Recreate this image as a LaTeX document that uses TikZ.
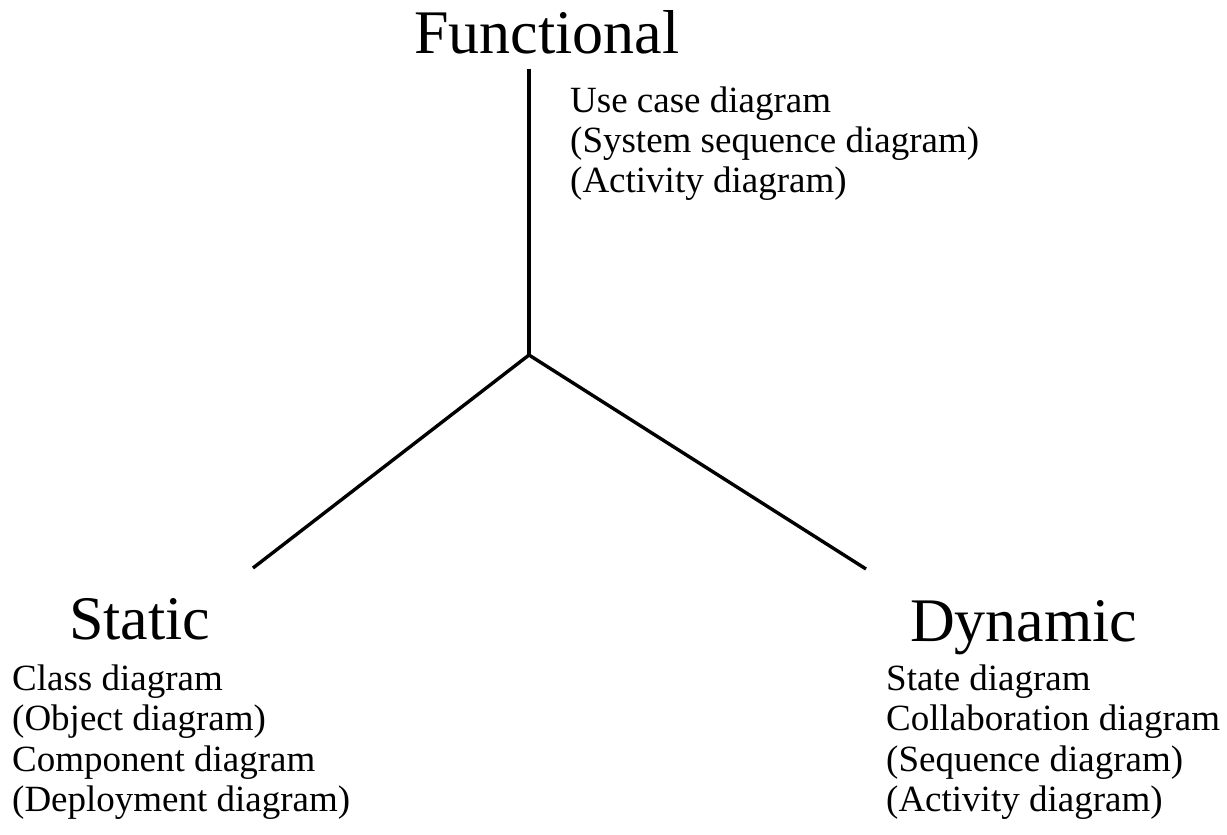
\documentclass[tikz,border=0pt]{standalone}
\usepackage{fontspec}
\setmainfont{Liberation Serif}
\begin{document}
\begin{tikzpicture}[x=1pt,y=-1pt,
  heading/.style={anchor=base west,inner sep=0pt,font=\fontsize{62}{62}\selectfont},
  entry/.style={anchor=base west,inner sep=0pt,font=\fontsize{37}{40}\selectfont},
  axis/.style={line width=3.4pt,line cap=butt}]
\useasboundingbox (0,0) rectangle (1227,835);

% the three axes meeting at a hub
\coordinate (hub) at (529,355);
\coordinate (topend) at (529,69);
\coordinate (leftend) at (253,568);
\coordinate (rightend) at (866,569);
\draw[axis] (topend) -- (hub);
\draw[axis] (hub) -- (leftend);
\draw[axis] (hub) -- (rightend);

% functional view
\node[heading] (functional) at (414,53) {Functional};
\node[entry] (f1) at (570,112) {Use case diagram};
\node[entry] (f2) at (570,152) {(System sequence diagram)};
\node[entry] (f3) at (570,192) {(Activity diagram)};

% static view
\node[heading] (static) at (69,639) {Static};
\node[entry] (s1) at (12,690) {Class diagram};
\node[entry] (s2) at (12,730) {(Object diagram)};
\node[entry] (s3) at (12,771) {Component diagram};
\node[entry] (s4) at (12,811) {(Deployment diagram)};

% dynamic view
\node[heading] (dynamic) at (910,641) {Dynamic};
\node[entry] (d1) at (886,690) {State diagram};
\node[entry] (d2) at (886,730) {Collaboration diagram};
\node[entry] (d3) at (886,771) {(Sequence diagram)};
\node[entry] (d4) at (886,811) {(Activity diagram)};
\end{tikzpicture}
\end{document}
